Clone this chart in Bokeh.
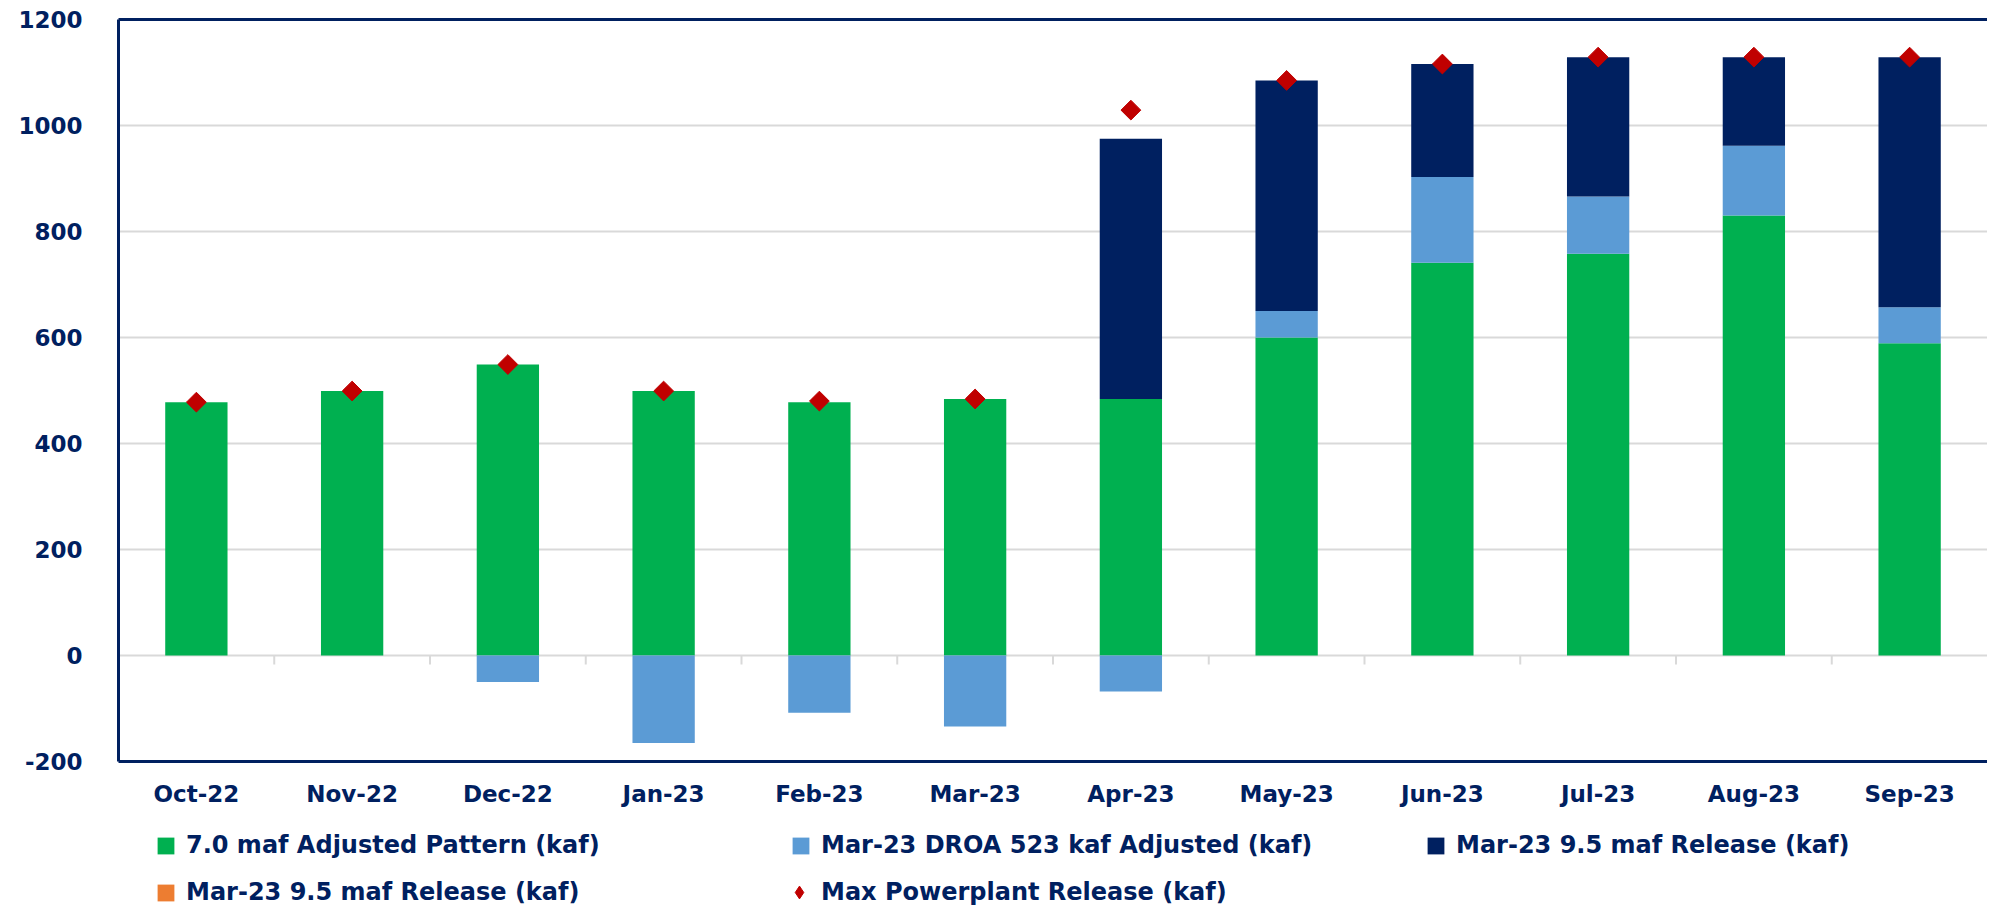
import math
from bokeh.plotting import figure
from bokeh.layouts import column
from bokeh.models import (ColumnDataSource, FactorRange, Range1d, LinearAxis,
                          Legend, LegendItem, FixedTicker)
from bokeh.embed import file_html
from bokeh.resources import INLINE

# ---------------- data (kaf) ----------------
months = ["Oct-22", "Nov-22", "Dec-22", "Jan-23", "Feb-23", "Mar-23",
          "Apr-23", "May-23", "Jun-23", "Jul-23", "Aug-23", "Sep-23"]
pattern_70 = [478, 499, 549, 499, 478, 484, 484, 600, 741, 758, 830, 589]
droa_adjusted = [0, 0, -50, -165, -108, -134, -68, 50, 162, 108, 132, 68]
release_95 = [0, 0, 0, 0, 0, 0, 491, 435, 213, 263, 167, 472]
release_95_alt = [0, 0, 0, 0, 0, 0, 0, 0, 0, 0, 0, 0]
max_powerplant = [478, 499, 549, 499, 480, 484, 1029, 1085, 1116, 1129, 1129, 1129]
y_ticks = [-200, 0, 200, 400, 600, 800, 1000, 1200]
series_labels = ["7.0 maf Adjusted Pattern (kaf)",
                 "Mar-23 DROA 523 kaf Adjusted (kaf)",
                 "Mar-23 9.5 maf Release (kaf)",
                 "Mar-23 9.5 maf Release (kaf)",
                 "Max Powerplant Release (kaf)"]

NAVY = "#002060"
GREEN = "#00B050"
LBLUE = "#5B9BD5"
ORANGE = "#ED7D31"
RED = "#C00000"
GRID = "#D9D9D9"
FONT = "DejaVu Sans"
W = 1987

# stacking like a spreadsheet: negatives go down from zero, positives stack up
blue_bottom = [g if d >= 0 else 0 for g, d in zip(pattern_70, droa_adjusted)]
blue_top = [g + d if d >= 0 else d for g, d in zip(pattern_70, droa_adjusted)]
navy_bottom = [g + max(d, 0) for g, d in zip(pattern_70, droa_adjusted)]
navy_top = [b + n for b, n in zip(navy_bottom, release_95)]
orange_top = [b + o for b, o in zip(navy_top, release_95_alt)]

src = ColumnDataSource(dict(
    month=months, green=pattern_70, zero=[0] * len(months),
    blue_bottom=blue_bottom, blue_top=blue_top,
    navy_bottom=navy_bottom, navy_top=navy_top, orange_top=orange_top,
    maxpp=max_powerplant,
))

p = figure(x_range=FactorRange(*months), y_range=Range1d(-200, 1200),
           width=W, height=815, output_backend="svg", toolbar_location=None,
           min_border_left=118, min_border_right=0, min_border_top=19,
           min_border_bottom=54)
p.outline_line_color = None

BW = 0.40
p.vbar(x="month", bottom="zero", top="green", width=BW, source=src,
       fill_color=GREEN, line_color=None)
p.vbar(x="month", bottom="blue_bottom", top="blue_top", width=BW, source=src,
       fill_color=LBLUE, line_color=None)
p.vbar(x="month", bottom="navy_bottom", top="navy_top", width=BW, source=src,
       fill_color=NAVY, line_color=None)
p.vbar(x="month", bottom="navy_top", top="orange_top", width=BW, source=src,
       fill_color=ORANGE, line_color=None)
p.scatter(x="month", y="maxpp", source=src, marker="square",
          angle=math.pi / 4, size=14, fill_color=RED, line_color=RED)

# category-axis tick marks hanging below the zero line
bx = [(m, -0.5) for m in months]
p.segment(x0=bx, x1=bx, y0=[0] * len(bx), y1=[-17] * len(bx),
          line_color=GRID, line_width=2)

# axes
p.yaxis.ticker = FixedTicker(ticks=y_ticks)
p.yaxis.major_label_overrides = {t: str(t) for t in y_ticks}
p.yaxis.axis_line_color = NAVY
p.yaxis.axis_line_width = 3
p.yaxis.major_tick_line_color = None
p.yaxis.minor_tick_line_color = None
p.yaxis.major_tick_out = 0
p.yaxis.major_label_text_color = NAVY
p.yaxis.major_label_text_font = FONT
p.yaxis.major_label_text_font_size = "23px"
p.yaxis.major_label_text_font_style = "bold"
p.yaxis.major_label_standoff = 36

p.xaxis.axis_line_color = NAVY
p.xaxis.axis_line_width = 3
p.xaxis.major_tick_line_color = None
p.xaxis.minor_tick_line_color = None
p.xaxis.major_tick_out = 0
p.xaxis.major_label_text_color = NAVY
p.xaxis.major_label_text_font = FONT
p.xaxis.major_label_text_font_size = "23px"
p.xaxis.major_label_text_font_style = "bold"
p.xaxis.major_label_standoff = 19

top_axis = LinearAxis(ticker=FixedTicker(ticks=[]), axis_line_color=NAVY,
                      axis_line_width=3, major_tick_line_color=None,
                      minor_tick_line_color=None, major_tick_out=0,
                      major_label_text_font_size="0px")
p.add_layout(top_axis, "above")

p.xgrid.grid_line_color = None
p.ygrid.ticker = FixedTicker(ticks=y_ticks)
p.ygrid.grid_line_color = GRID
p.ygrid.grid_line_width = 2

# ---------------- legend strip below the chart ----------------
lg = figure(width=W, height=93, output_backend="svg", toolbar_location=None,
            x_range=Range1d(0, 1), y_range=Range1d(0, 1),
            min_border_left=118, min_border_right=0, min_border_top=0,
            min_border_bottom=0)
lg.axis.visible = False
lg.grid.visible = False
lg.outline_line_color = None
# placeholder renderers (outside the strip's visible range) that only feed the legend
ph = dict(x=[-5], top=[-5], bottom=[-6])
l_green = lg.vbar(width=1, fill_color=GREEN, line_color=None, **ph)
l_blue = lg.vbar(width=1, fill_color=LBLUE, line_color=None, **ph)
l_navy = lg.vbar(width=1, fill_color=NAVY, line_color=None, **ph)
l_orange = lg.vbar(width=1, fill_color=ORANGE, line_color=None, **ph)
l_max = lg.scatter(x=[-5], y=[-5], marker="diamond", size=12,
                   fill_color=RED, line_color=RED)

common = dict(border_line_color=None, background_fill_alpha=0, padding=0, margin=0,
              label_text_color=NAVY, label_text_font=FONT,
              label_text_font_size="24px", label_text_font_style="bold",
              label_height=28)

legend = Legend(items=[LegendItem(label=lab, renderers=[r]) for lab, r in zip(
    series_labels[:4], [l_green, l_blue, l_navy, l_orange])],
    location=(37, 2), orientation="horizontal", ncols=3,
    glyph_width=21, glyph_height=21, label_standoff=10, label_width=585,
    spacing=19, **common)
lg.add_layout(legend)

legend2 = Legend(items=[LegendItem(label=series_labels[4], renderers=[l_max])],
                 location=(665, 0), glyph_width=32, glyph_height=32,
                 label_standoff=6, **common)
lg.add_layout(legend2)

open("out.html", "w").write(file_html(column(p, lg, spacing=0), INLINE))
